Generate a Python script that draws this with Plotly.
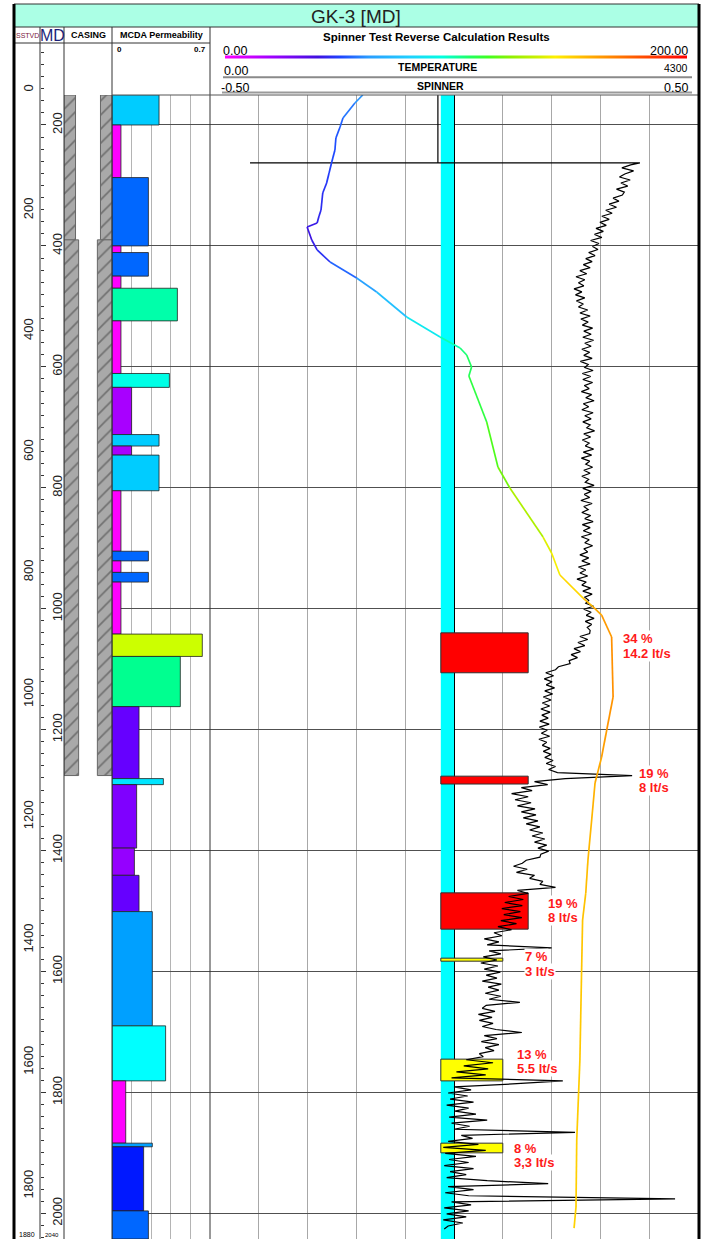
import numpy as np
import plotly.graph_objects as go
from plotly.colors import sample_colorscale

W, H = 705, 1239
FONT = "Liberation Sans, Arial, sans-serif"


def px(x):
    return x / W


def py(y):
    return 1 - y / H


# ---------------- depth frame (MD, m) ----------------
MD_TOP_TRACK = 150.4
MD_TOP_INDEX = 67.7
MD_BOTTOM = 2042.5

sstvd_labels = [0, 200, 400, 600, 800, 1000, 1200, 1400, 1600, 1800]
sstvd_at_md = [142, 341, 541, 741, 940, 1142, 1344, 1548, 1750, 1955]

# ---------------- casing ----------------
casing_top = [150.4, 390]
casing_bottom = [390, 1276]
casing_inner = [0.52, 0.39]

# ---------------- MCDA permeability ----------------
perm_top = [150, 200, 287, 400, 411, 450, 470, 524, 611, 634,
            712, 731, 746, 805, 905, 921, 940, 956, 1042, 1079,
            1162, 1281, 1291, 1396, 1441, 1501, 1690, 1781, 1884, 1890,
            1996]
perm_value = [0.336, 0.064, 0.26, 0.064, 0.26, 0.064, 0.467, 0.064, 0.41, 0.14,
              0.336, 0.14, 0.336, 0.064, 0.26, 0.064, 0.26, 0.064, 0.645, 0.488,
              0.193, 0.367, 0.176, 0.16, 0.193, 0.288, 0.383, 0.098, 0.288, 0.226,
              0.26]
perm_bottom = perm_top[1:] + [MD_BOTTOM]

# ---------------- temperature ----------------
temp_md = [150.4, 163.6, 188.4, 203.3, 221.5, 241.3, 261.2, 279.4, 295.9, 312.5,
           340.6, 350.5, 362.1, 368.7, 390.2, 406.7, 426.6, 453.1, 476.2, 517.6,
           550.7, 568.8, 580.4, 600.3, 615.2, 691.2, 765.7, 800.4, 881.5, 907.9,
           944.3, 982.4, 997.2, 1010.5, 1046.8, 1146.1, 1200.7, 1245.3, 1288.3, 1333.0,
           1415.7, 1470.3, 1514.9, 1597.6, 1746.5, 1878.8, 1989.6, 2024.4]
temp_val = [62.6, 59.4, 54.5, 53.3, 51.6, 51.2, 49.9, 48.8, 47.8, 46.2,
            45.5, 44.7, 43.9, 39.8, 41.7, 43.9, 49.2, 60.1, 68.3, 80.6,
            94.3, 102.5, 105.2, 107.2, 106.1, 113.4, 118.0, 122.9, 136.5, 140.0,
            143.4, 152.9, 157.0, 160.5, 164.6, 165.2, 162.6, 160.5, 157.8, 156.8,
            154.9, 154.0, 152.7, 152.3, 151.6, 150.3, 150.0, 149.2]

# ---------------- spinner ----------------
spin_lead_md = [150.4, 262.5, 262.6, 262.8]
spin_lead_val = [-0.033, -0.033, -0.418, 0.381]

spin_upper_md = np.arange(266, 1037, 5)
spin_upper_val = [
    0.362, 0.344, 0.368, 0.350, 0.339, 0.361, 0.342, 0.356, 0.333, 0.349,
    0.345, 0.326, 0.338, 0.318, 0.333, 0.311, 0.324, 0.303, 0.318, 0.299,
    0.312, 0.291, 0.306, 0.288, 0.303, 0.280, 0.297, 0.284, 0.295, 0.276,
    0.289, 0.270, 0.283, 0.265, 0.279, 0.258, 0.272, 0.250, 0.268, 0.255,
    0.266, 0.246, 0.262, 0.249, 0.268, 0.251, 0.265, 0.255, 0.274, 0.258,
    0.279, 0.260, 0.275, 0.263, 0.284, 0.266, 0.281, 0.264, 0.286, 0.268,
    0.281, 0.262, 0.278, 0.266, 0.283, 0.259, 0.275, 0.268, 0.285, 0.263,
    0.280, 0.264, 0.284, 0.267, 0.277, 0.261, 0.282, 0.270, 0.287, 0.265,
    0.276, 0.262, 0.285, 0.268, 0.281, 0.264, 0.279, 0.272, 0.288, 0.266,
    0.280, 0.263, 0.277, 0.269, 0.286, 0.265, 0.282, 0.261, 0.278, 0.270,
    0.284, 0.266, 0.279, 0.262, 0.276, 0.269, 0.287, 0.264, 0.281, 0.267,
    0.278, 0.260, 0.283, 0.266, 0.275, 0.262, 0.280, 0.268, 0.285, 0.263,
    0.279, 0.265, 0.282, 0.261, 0.277, 0.268, 0.284, 0.266, 0.274, 0.258,
    0.276, 0.262, 0.279, 0.255, 0.270, 0.258, 0.274, 0.252, 0.271, 0.262,
    0.280, 0.264, 0.283, 0.268, 0.276, 0.270, 0.286, 0.266, 0.281, 0.271,
    0.287, 0.269, 0.282, 0.273, 0.279]

spin_lower_md = np.arange(1041, 2027, 5)
spin_lower_val = [
    0.278, 0.258, 0.274, 0.254, 0.268, 0.246, 0.259, 0.240, 0.253, 0.236,
    0.238, 0.214, 0.208, 0.188, 0.204, 0.185, 0.201, 0.189, 0.206, 0.186,
    0.202, 0.183, 0.199, 0.181, 0.196, 0.178, 0.197, 0.180, 0.193, 0.176,
    0.195, 0.175, 0.191, 0.179, 0.196, 0.174, 0.190, 0.181, 0.197, 0.183,
    0.199, 0.186, 0.203, 0.189, 0.208, 0.194, 0.212, 0.365, 0.228, 0.165,
    0.192, 0.138, 0.160, 0.118, 0.152, 0.125, 0.158, 0.130, 0.166, 0.138,
    0.168, 0.142, 0.172, 0.148, 0.176, 0.155, 0.182, 0.160, 0.186, 0.165,
    0.190, 0.172, 0.194, 0.178, 0.176, 0.148, 0.140, 0.122, 0.150, 0.128,
    0.165, 0.155, 0.182, 0.176, 0.208, 0.130, 0.152, 0.112, 0.142, 0.104,
    0.140, 0.098, 0.136, 0.102, 0.139, 0.096, 0.128, 0.090, 0.118, 0.082,
    0.098, 0.062, 0.092, 0.068, 0.200, 0.072, 0.096, 0.060, 0.088, 0.055,
    0.090, 0.062, 0.095, 0.066, 0.088, 0.058, 0.097, 0.070, 0.092, 0.064,
    0.096, 0.072, 0.135, 0.066, 0.058, 0.084, 0.050, 0.078, 0.052, 0.080,
    0.058, 0.086, 0.139, 0.062, 0.088, 0.056, 0.092, 0.064, 0.082, 0.052,
    0.060, 0.025, 0.080, 0.020, 0.070, 0.005, 0.065, -0.005, 0.223, 0.120,
    0.000, 0.035, -0.012, 0.028, -0.008, 0.040, -0.015, 0.030, 0.002, 0.045,
    -0.010, 0.068, -0.005, 0.032, 0.000, 0.248, 0.015, 0.038, -0.012, 0.050,
    -0.022, 0.065, -0.018, 0.045, -0.010, 0.030, -0.020, 0.040, -0.008, 0.025,
    -0.015, 0.068, 0.193, -0.012, 0.040, -0.018, 0.030, 0.453, -0.005, 0.035,
    -0.020, 0.030, -0.015, 0.025, -0.022, 0.018, -0.012, -0.020]

spin_md = list(spin_lead_md) + list(spin_upper_md) + list(spin_lower_md)
spin_val = spin_lead_val + spin_upper_val + spin_lower_val

# ---------------- flow zones ----------------
zone_top = [1040, 1277, 1470, 1578, 1745, 1884]
zone_bottom = [1106, 1290, 1530, 1583, 1781, 1900]
zone_pct = ["34 %", "19 %", "19 %", "7 %", "13 %", "8 %"]
zone_rate = ["14.2 lt/s", "8 lt/s", "8 lt/s", "3 lt/s", "5.5 lt/s", "3,3 lt/s"]
zone_class = ["major", "major", "major", "minor", "minor", "minor"]

# label placement (layout, spinner-axis units / MD)
label_x = [0.344, 0.377, 0.191, 0.143, 0.127, 0.121]
label_md = [1050, 1273, 1487, 1576, 1737, 1892]
LINE_GAP_MD = 23.5

WELL_LEFT = -0.027
ZONE_STYLE = {
    "major": dict(right=0.152, color="#FF0000"),
    "minor": dict(right=0.100, color="#FFFF00"),
}


def to_scale(stops):
    out = []
    for pos, h in stops:
        h = h.lstrip("#")
        out.append([pos, "rgb(%d,%d,%d)" % (int(h[0:2], 16), int(h[2:4], 16), int(h[4:6], 16))])
    return out


temp_cs = to_scale([
    (0.0, "#FF00FF"), (0.10, "#A000FF"), (0.20, "#4010E0"), (0.25, "#1E44FF"),
    (0.31, "#2A9CFF"), (0.40, "#20D0FF"), (0.47, "#00FFE0"), (0.53, "#20FF60"),
    (0.57, "#40FF20"), (0.62, "#90F000"), (0.68, "#D0F000"), (0.715, "#FFF000"),
    (0.75, "#FFD000"), (0.80, "#FFA500"), (0.90, "#FF5000"), (1.0, "#FF0000")])

perm_cs = to_scale([
    (0.0, "#FF00FF"), (0.15, "#FF00FF"), (0.20, "#A800FF"), (0.23, "#9400FF"),
    (0.25, "#8000FF"), (0.276, "#6600FF"), (0.323, "#0018FF"), (0.371, "#0066FF"),
    (0.411, "#00A0FF"), (0.48, "#00CCFF"), (0.524, "#00E5FF"), (0.547, "#00FFFF"),
    (0.586, "#00FFE6"), (0.667, "#00FFAA"), (0.697, "#00FF90"), (0.921, "#CCFF00"),
    (1.0, "#FFFF00")])

fig = go.Figure()

# ---- permeability bars ----
fig.add_trace(go.Bar(
    orientation="h",
    y=[(a + b) / 2 for a, b in zip(perm_top, perm_bottom)],
    width=[b - a for a, b in zip(perm_top, perm_bottom)],
    x=perm_value, base=[0] * len(perm_value),
    marker=dict(color=sample_colorscale(perm_cs, [v / 0.7 for v in perm_value]),
                line=dict(color="#222222", width=0.8)),
    xaxis="x", yaxis="y", showlegend=False, hoverinfo="skip"))

# ---- casing ----
cas_y = [(a + b) / 2 for a, b in zip(casing_top, casing_bottom)]
cas_w = [b - a for a, b in zip(casing_top, casing_bottom)]
for side in (-1, 1):
    fig.add_trace(go.Bar(
        orientation="h", y=cas_y, width=cas_w,
        x=[1 - c for c in casing_inner],
        base=[-1 if side < 0 else c for c in casing_inner],
        marker=dict(color="#A9A9A9",
                    pattern=dict(shape="/", fgcolor="#3a3a3a", fillmode="overlay",
                                 size=10, solidity=0.18),
                    line=dict(color="#666666", width=1)),
        xaxis="x4", yaxis="y3", showlegend=False, hoverinfo="skip"))

# ---- well (cyan) band ----
fig.add_trace(go.Bar(
    orientation="h", y=[(MD_TOP_TRACK + MD_BOTTOM) / 2], width=[MD_BOTTOM - MD_TOP_TRACK],
    x=[0 - WELL_LEFT], base=[WELL_LEFT],
    marker=dict(color="#00FFFF", line=dict(width=0)),
    xaxis="x2", yaxis="y2", showlegend=False, hoverinfo="skip"))

# ---- flow zone bars ----
for cls in ("major", "minor"):
    idx = [i for i, c in enumerate(zone_class) if c == cls]
    st = ZONE_STYLE[cls]
    fig.add_trace(go.Bar(
        orientation="h",
        y=[(zone_top[i] + zone_bottom[i]) / 2 for i in idx],
        width=[zone_bottom[i] - zone_top[i] for i in idx],
        x=[st["right"] - WELL_LEFT] * len(idx), base=[WELL_LEFT] * len(idx),
        marker=dict(color=st["color"], line=dict(color="#303030", width=1)),
        xaxis="x2", yaxis="y2", showlegend=False, hoverinfo="skip"))

# ---- spinner curve ----
fig.add_trace(go.Scatter(
    x=spin_val, y=spin_md, mode="lines",
    line=dict(color="#000000", width=1.2),
    xaxis="x2", yaxis="y2", showlegend=False, hoverinfo="skip"))

# ---- temperature curve, coloured by value ----
for i in range(len(temp_md) - 1):
    c = sample_colorscale(temp_cs, [(temp_val[i] + temp_val[i + 1]) / 2 / 200])[0]
    fig.add_trace(go.Scatter(
        x=temp_val[i:i + 2], y=temp_md[i:i + 2], mode="lines",
        line=dict(color=c, width=1.7),
        xaxis="x3", yaxis="y2", showlegend=False, hoverinfo="skip"))

# temperature colour scale shown in header
fig.add_trace(go.Scatter(
    x=[0], y=[-500], mode="markers",
    marker=dict(color=[0], cmin=0, cmax=200, colorscale=temp_cs, opacity=0,
                showscale=True,
                colorbar=dict(orientation="h", x=px(456), xanchor="center",
                              y=py(57.3), yanchor="middle", len=462, lenmode="pixels",
                              thickness=3, outlinewidth=0, showticklabels=False,
                              ticks="", xpad=0, ypad=0)),
    xaxis="x3", yaxis="y2", showlegend=False, hoverinfo="skip"))

# dummy traces for depth index axes
fig.add_trace(go.Scatter(x=[0.5], y=[1000], mode="markers", marker=dict(opacity=0),
                         xaxis="x5", yaxis="y4", showlegend=False, hoverinfo="skip"))
fig.add_trace(go.Scatter(x=[0.5], y=[1000], mode="markers", marker=dict(opacity=0),
                         xaxis="x5", yaxis="y5", showlegend=False, hoverinfo="skip"))

# ---------------- annotations ----------------
ann = []


def text(x, y, t, size, xanchor="center", bold=False, color="#000000"):
    ann.append(dict(x=px(x), y=py(y), xref="paper", yref="paper", text=("<b>%s</b>" % t) if bold else t,
                    showarrow=False, xanchor=xanchor, yanchor="middle",
                    font=dict(family=FONT, size=size, color=color)))


text(356, 16, "GK-3 [MD]", 19, color="#222222")
text(27, 36, "SSTVD", 7, color="#7A2040")
text(52, 36, "MD", 16, color="#1B1F7A")
text(88, 35, "CASING", 9, bold=True)
text(161, 35, "MCDA Permeability", 9, bold=True)
text(115, 50, "0", 8, xanchor="left", bold=True)
text(208, 50, "0.7", 8, xanchor="right", bold=True)
text(436, 37, "Spinner Test Reverse Calculation Results", 11.5, bold=True)
text(221, 51, "0.00", 12.5, xanchor="left")
text(690, 51, "200.00", 12.5, xanchor="right")
text(437, 67, "TEMPERATURE", 10.5, bold=True)
text(222, 71, "0.00", 12.5, xanchor="left")
text(690, 68, "4300", 10.5, xanchor="right")
text(440, 86, "SPINNER", 10.5, bold=True)
text(219, 88, "-0.50", 12.5, xanchor="left")
text(690, 88, "0.50", 12.5, xanchor="right")
text(27, 1234, "1880", 7)
text(52, 1235, "2040", 6)

for i in range(len(zone_pct)):
    for k, t in enumerate((zone_pct[i], zone_rate[i])):
        ann.append(dict(x=label_x[i], y=label_md[i] + k * LINE_GAP_MD, xref="x2", yref="y2",
                        text="<b>%s</b>" % t, showarrow=False, xanchor="left", yanchor="middle",
                        bgcolor="#FFFFFF", borderpad=0,
                        font=dict(family=FONT, size=13, color="#FF1A1A")))

# ---------------- frame shapes ----------------
shapes = []


def line(x0, y0, x1, y1, color="#333333", width=1):
    shapes.append(dict(type="line", xref="paper", yref="paper", x0=px(x0), y0=py(y0),
                       x1=px(x1), y1=py(y1), line=dict(color=color, width=width)))


shapes.append(dict(type="rect", xref="paper", yref="paper", x0=px(14), x1=px(699),
                   y0=py(27), y1=py(4), fillcolor="#ABFFE5", line=dict(color="#333333", width=1),
                   layer="below"))
for xv in (40, 64, 112, 210):
    line(xv, 27, xv, 1239)
line(14, 43, 210, 43)
line(112, 95, 699, 95, "#555555")
line(223, 77.3, 692, 77.3, "#8a8a8a", 2)
line(222, 92.5, 692, 92.5, "#9a9a9a", 2)
line(14, 4, 14, 1239, "#000000", 3)
line(699, 4, 699, 1239, "#000000", 3)

track_dom = [0, py(95)]
fig.update_layout(
    width=W, height=H, autosize=False,
    margin=dict(l=0, r=0, t=0, b=0, pad=0),
    paper_bgcolor="#FFFFFF", plot_bgcolor="#FFFFFF",
    barmode="overlay", showlegend=False,
    font=dict(family=FONT, color="#000000"),
    annotations=ann, shapes=shapes,
    xaxis=dict(domain=[px(112), px(210)], range=[0, 0.7], anchor="y", showgrid=True,
               gridcolor="#b4b4b4", tick0=0, dtick=0.14, showticklabels=False, ticks="",
               zeroline=False, showline=False, fixedrange=True),
    yaxis=dict(domain=track_dom, range=[MD_BOTTOM, MD_TOP_TRACK], anchor="x", showgrid=True,
               gridcolor="#505050", tick0=0, dtick=200, showticklabels=False, ticks="",
               zeroline=False, showline=False, fixedrange=True),
    xaxis2=dict(domain=[px(210), px(698)], range=[-0.5, 0.5], anchor="y2", showgrid=True,
                gridcolor="#a8a8a8", tick0=0, dtick=0.1, showticklabels=False, ticks="",
                zeroline=True, zerolinecolor="#000000", zerolinewidth=1, showline=False,
                fixedrange=True),
    yaxis2=dict(domain=track_dom, range=[MD_BOTTOM, MD_TOP_TRACK], anchor="x2", showgrid=True,
                gridcolor="#505050", tick0=0, dtick=200, showticklabels=False, ticks="",
                zeroline=False, showline=False, fixedrange=True),
    xaxis3=dict(domain=[px(210), px(698)], range=[0, 200], anchor="y2", overlaying="x2",
                visible=False, fixedrange=True),
    xaxis4=dict(domain=[px(64), px(112)], range=[-1, 1], anchor="y3", visible=False,
                fixedrange=True),
    yaxis3=dict(domain=track_dom, range=[MD_BOTTOM, MD_TOP_TRACK], anchor="x4", visible=False,
                fixedrange=True),
    xaxis5=dict(domain=[px(14), px(64)], range=[0, 1], anchor="y4", visible=False,
                fixedrange=True),
    yaxis4=dict(domain=[0, py(45)], range=[MD_BOTTOM, MD_TOP_INDEX], anchor="free",
                position=px(40), side="right", tickmode="linear", tick0=0, dtick=200,
                ticks="outside", ticklen=5, tickcolor="#333333", tickwidth=1, tickangle=-90,
                ticklabelstandoff=0,
                tickfont=dict(family=FONT, size=13, color="#222222"),
                showgrid=False, zeroline=False, showline=False, fixedrange=True,
                minor=dict(tick0=0, dtick=20, ticks="outside", ticklen=3, tickcolor="#333333",
                           showgrid=False)),
    yaxis5=dict(domain=[0, py(45)], range=[MD_BOTTOM, MD_TOP_INDEX], anchor="free",
                overlaying="y4", position=px(40), side="left", tickmode="array",
                tickvals=sstvd_at_md, ticktext=[str(v) for v in sstvd_labels], ticks="",
                tickangle=-90, ticklabelstandoff=4,
                tickfont=dict(family=FONT, size=13, color="#222222"),
                showgrid=False, zeroline=False, showline=False, fixedrange=True),
)

fig.write_html("out.html")
